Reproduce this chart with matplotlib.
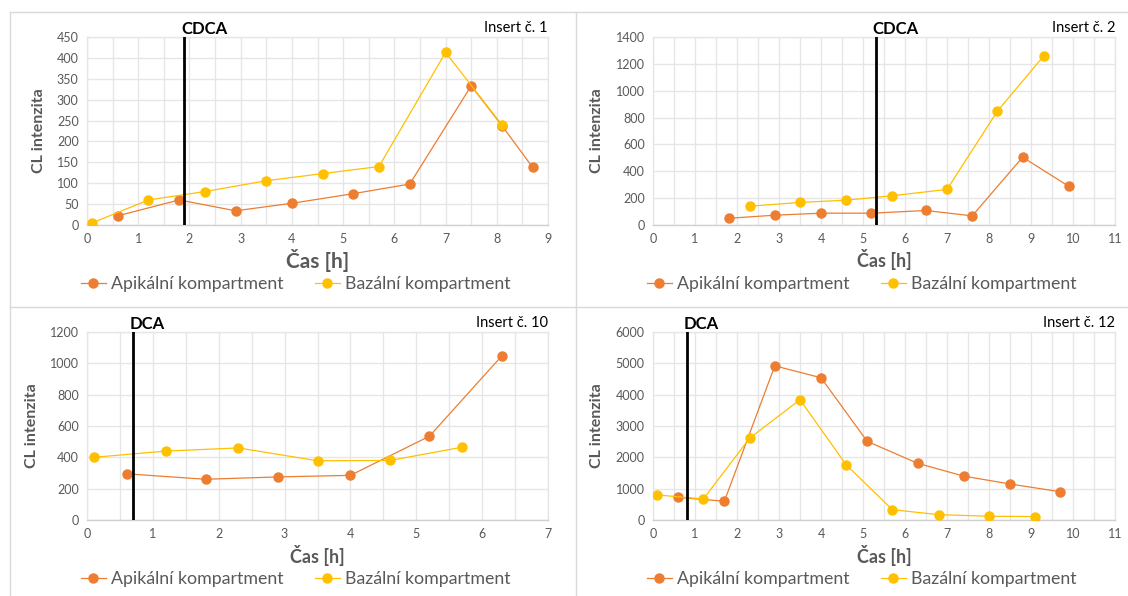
import matplotlib
matplotlib.use("Agg")
import matplotlib.pyplot as plt
from matplotlib.lines import Line2D
from matplotlib.ticker import MultipleLocator

plt.rcParams['font.family'] = ['Lato', 'DejaVu Sans']

W, H = 1128, 596

# ---- data -------------------------------------------------------------
series_names = ["Apikální kompartment", "Bazální kompartment"]

# Insert č. 1 (CDCA)
ins1_api_t = [0.6, 1.8, 2.9, 4.0, 5.2, 6.3, 7.5, 8.1, 8.7]
ins1_api_v = [22, 60, 34, 52, 75, 98, 333, 238, 138]
ins1_baz_t = [0.1, 1.2, 2.3, 3.5, 4.6, 5.7, 7.0, 8.1]
ins1_baz_v = [5, 60, 80, 106, 123, 140, 413, 240]

# Insert č. 2 (CDCA)
ins2_api_t = [1.8, 2.9, 4.0, 5.2, 6.5, 7.6, 8.8, 9.9]
ins2_api_v = [50, 73, 88, 88, 108, 68, 505, 288]
ins2_baz_t = [2.3, 3.5, 4.6, 5.7, 7.0, 8.2, 9.3]
ins2_baz_v = [140, 168, 185, 218, 265, 848, 1258]

# Insert č. 10 (DCA)
ins10_api_t = [0.6, 1.8, 2.9, 4.0, 5.2, 6.3]
ins10_api_v = [295, 260, 275, 285, 535, 1048]
ins10_baz_t = [0.1, 1.2, 2.3, 3.5, 4.6, 5.7]
ins10_baz_v = [400, 440, 460, 378, 380, 465]

# Insert č. 12 (DCA)
ins12_api_t = [0.6, 1.7, 2.9, 4.0, 5.1, 6.3, 7.4, 8.5, 9.7]
ins12_api_v = [720, 600, 4920, 4540, 2510, 1810, 1400, 1150, 900]
ins12_baz_t = [0.1, 1.2, 2.3, 3.5, 4.6, 5.7, 6.8, 8.0, 9.1]
ins12_baz_v = [800, 670, 2610, 3840, 1760, 330, 170, 120, 110]

panel_titles = ["Insert č. 1", "Insert č. 2", "Insert č. 10", "Insert č. 12"]
agents = ["CDCA", "CDCA", "DCA", "DCA"]
agent_times = [1.9, 5.3, 0.7, 0.8]
x_max = [9, 11, 7, 11]
y_max = [450, 1400, 1200, 6000]
y_step = [50, 200, 200, 1000]

C_API = "#ED7D31"
C_BAZ = "#FFC000"
GRID = "#E6E6E6"
TXT = "#595959"

fig = plt.figure(figsize=(W / 100, H / 100), dpi=100)
fig.patch.set_facecolor("white")


def px_axes(l, t, r, b):
    return fig.add_axes([l / W, 1 - b / H, (r - l) / W, (b - t) / H])


# panel frames
for xs, ys in [([10, 10], [12, H]), ([576, 576], [12, H]), ([10, W], [12, 12]),
               ([10, W], [307, 307])]:
    fig.add_artist(Line2D([x / W for x in xs], [1 - y / H for y in ys],
                          color="#D9D9D9", lw=1.0))

boxes = [(87, 37, 548, 225), (653, 37, 1115, 225),
         (87, 332, 548, 520), (653, 332, 1115, 520)]
data = [
    (ins1_api_t, ins1_api_v, ins1_baz_t, ins1_baz_v),
    (ins2_api_t, ins2_api_v, ins2_baz_t, ins2_baz_v),
    (ins10_api_t, ins10_api_v, ins10_baz_t, ins10_baz_v),
    (ins12_api_t, ins12_api_v, ins12_baz_t, ins12_baz_v),
]
xlabel_size = [15, 13, 13, 13]

for i, (box, (at, av, bt, bv)) in enumerate(zip(boxes, data)):
    ax = px_axes(*box)
    ax.set_xlim(0, x_max[i])
    ax.set_ylim(0, y_max[i])
    ax.xaxis.set_major_locator(MultipleLocator(1))
    ax.xaxis.set_minor_locator(MultipleLocator(0.5))
    ax.yaxis.set_major_locator(MultipleLocator(y_step[i]))
    ax.grid(True, which="major", color=GRID, lw=1.0)
    ax.grid(True, which="minor", axis="x", color=GRID, lw=1.0)
    ax.set_axisbelow(True)
    for side, sp in ax.spines.items():
        sp.set_color(GRID)
        sp.set_linewidth(1.0)
    ax.spines["bottom"].set_color("#D0D0D0")
    ax.tick_params(which="both", length=0, labelsize=9, colors=TXT, pad=6)

    ax.plot(at, av, color=C_API, lw=0.9, marker="o", ms=6.5, mec=C_API,
            mfc=C_API, zorder=3)
    ax.plot(bt, bv, color=C_BAZ, lw=0.9, marker="o", ms=6.5, mec=C_BAZ,
            mfc=C_BAZ, zorder=3)

    ax.axvline(agent_times[i], color="black", lw=2.0, zorder=4)
    ax.annotate(agents[i], xy=(agent_times[i], 1.0),
                xycoords=("data", "axes fraction"), xytext=(-3, 0),
                textcoords="offset pixels", ha="left", va="bottom",
                fontsize=12, fontweight="bold", color="black",
                annotation_clip=False)
    ax.text(1.0, 1.01, panel_titles[i], transform=ax.transAxes, ha="right",
            va="bottom", fontsize=10.5, color="black")

    ax.set_ylabel("CL intenzita", fontsize=11.5, fontweight="bold", color=TXT,
                  labelpad=8)
    ax.set_xlabel("Čas [h]", fontsize=xlabel_size[i], fontweight="bold",
                  color=TXT, labelpad=3)

    handles = [Line2D([], [], color=C_API, lw=0.9, marker="o", ms=6.5),
               Line2D([], [], color=C_BAZ, lw=0.9, marker="o", ms=6.5)]
    leg_y = 1 - (box[3] + 59) / H
    leg_x = (box[0] - 6) / W
    ax.legend(handles, series_names, loc="center left",
              bbox_to_anchor=(leg_x, leg_y), bbox_transform=fig.transFigure,
              ncol=2, frameon=False, fontsize=12.8, labelcolor=TXT,
              handlelength=1.4, handletextpad=0.3, columnspacing=1.75,
              borderaxespad=0, borderpad=0)

fig.savefig("out.png", dpi=100, facecolor="white")
